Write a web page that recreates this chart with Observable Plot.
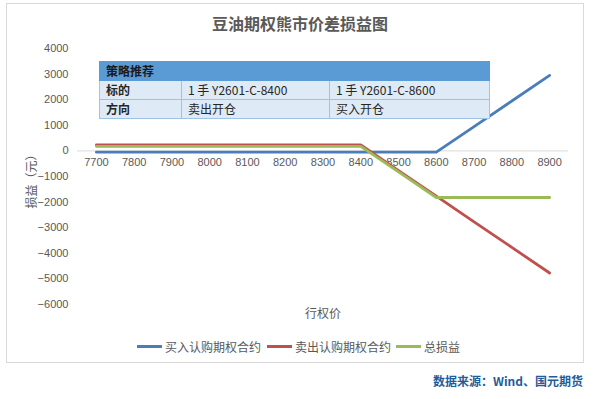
<!DOCTYPE html>
<html><head><meta charset="utf-8">
<script src="https://cdn.jsdelivr.net/npm/d3@7"></script>
<script src="https://cdn.jsdelivr.net/npm/@observablehq/plot@0.6"></script>
<style>
body{margin:0;background:#fff;font-family:"Noto Sans CJK SC","Liberation Sans",sans-serif;}
#wrap{position:relative;width:600px;height:399px;overflow:hidden;}
#frame{position:absolute;left:6px;top:3px;width:576px;height:358px;border:1px solid #d9d9d9;}
#title{position:absolute;left:0;top:11px;width:600px;text-align:center;font-size:16px;font-weight:bold;color:#595959;}
#chart{position:absolute;left:0;top:35px;}
#tbl{position:absolute;left:99px;top:61px;border-collapse:collapse;font-size:12px;color:#262626;}
#tbl td{border:1px solid #9dc3e6;height:18px;padding:0 0 0 6px;line-height:18px;background:#deebf7;}
#tbl tr.h td{background:#5b9bd5;font-weight:bold;color:#1a1a1a;border-color:#5b9bd5;}
#legend{position:absolute;top:338px;left:0;width:600px;font-size:12px;color:#595959;}
.li{position:absolute;display:flex;align-items:center;}
.sw{width:25px;height:3px;margin-right:3px;}
#xlab{position:absolute;top:304px;left:0;width:646px;text-align:center;font-size:12px;color:#595959;}
#ylab{position:absolute;left:22px;top:170px;transform:rotate(-90deg);transform-origin:center;font-size:12px;color:#595959;width:60px;margin-left:-22px;text-align:center;}
#src{position:absolute;right:17px;top:372px;font-size:12px;font-weight:bold;color:#1f5c99;}
</style></head>
<body>
<div id="wrap">
<div id="frame"></div>
<div id="title">豆油期权熊市价差损益图</div>
<div id="chart"></div>
<table id="tbl"></table>
<div id="xlab">行权价</div>
<div id="ylab">损益（元）</div>
<div id="legend"></div>
<div id="src">数据来源：Wind、国元期货</div>
</div>
<script>
const strikes = [7700,7800,7900,8000,8100,8200,8300,8400,8500,8600,8700,8800,8900];
const buyCall = [-50,-50,-50,-50,-50,-50,-50,-50,-50,-50,950,1950,2950];
const sellCall = [230,230,230,230,230,230,230,230,-770,-1770,-2770,-3770,-4770];
const total = [180,180,180,180,180,180,180,180,-820,-1820,-1820,-1820,-1820];
const seriesNames = ["买入认购期权合约","卖出认购期权合约","总损益"];
const seriesColors = ["#4a7ebb","#c0504d","#9bbb59"];
const yTicks = [4000,3000,2000,1000,0,-1000,-2000,-3000,-4000,-5000,-6000];
const tableHeader = "策略推荐";
const tableRows = [["标的","1 手 Y2601-C-8400","1 手 Y2601-C-8600"],["方向","卖出开仓","买入开仓"]];
const colWidths = [82,148,160];

const seriesValues = [buyCall, sellCall, total];
const rows = [];
seriesValues.forEach((vals,si)=>vals.forEach((v,i)=>rows.push({s:seriesNames[si],x:strikes[i],y:v})));

const chart = Plot.plot({
  width:600, height:290,
  marginLeft:77, marginRight:32, marginTop:13, marginBottom:21,
  style:{fontFamily:"'Liberation Sans',sans-serif",fontSize:"11px",color:"#595959",background:"transparent"},
  x:{domain:[7650,8950],axis:null},
  y:{domain:[-6000,4000],ticks:yTicks,tickSize:0,tickPadding:9,tickFormat:d=>String(d).replace("-","\u2212"),label:null},
  color:{domain:seriesNames,range:seriesColors},
  marks:[
    Plot.ruleY([0],{stroke:"#d9d9d9",strokeWidth:1}),
    Plot.text(strikes,{x:d=>d,y:0,dy:12,text:d=>String(d),fill:"#595959",fontSize:11}),
    Plot.line(rows,{x:"x",y:"y",z:"s",stroke:"s",strokeWidth:2.8,strokeLinejoin:"round"})
  ]
});
document.getElementById("chart").appendChild(chart);

const tbl = document.getElementById("tbl");
const hr = document.createElement("tr"); hr.className="h";
const hd = document.createElement("td"); hd.colSpan=3; hd.textContent=tableHeader; hr.appendChild(hd); tbl.appendChild(hr);
tableRows.forEach(r=>{const tr=document.createElement("tr");r.forEach((c,i)=>{const td=document.createElement("td");td.textContent=c;td.style.width=(colWidths[i]-7)+"px";if(i===0)td.style.fontWeight="bold";tr.appendChild(td);});tbl.appendChild(tr);});

const lg = document.getElementById("legend");
const lx = [137,267,396];
seriesNames.forEach((n,i)=>{const d=document.createElement("div");d.className="li";d.style.left=lx[i]+"px";d.innerHTML=`<div class="sw" style="background:${seriesColors[i]}"></div><span>${n}</span>`;lg.appendChild(d);});
</script>
</body></html>
